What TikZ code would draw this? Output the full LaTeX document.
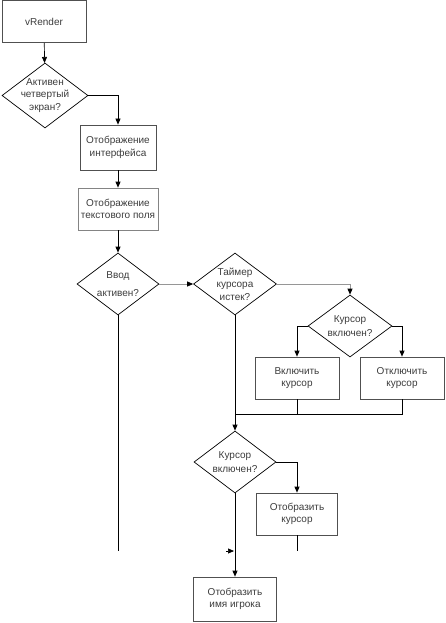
\documentclass[tikz,border=0pt]{standalone}
\usepackage{fontspec}
\setmainfont{Liberation Sans}
\usetikzlibrary{shapes.geometric, arrows.meta, calc}
\definecolor{boxgray}{RGB}{80,80,80}
\definecolor{txtgray}{RGB}{60,60,60}
\definecolor{linegray}{RGB}{150,150,150}

\begin{document}
\begin{tikzpicture}[x=1pt, y=-1pt,
  every node/.style={font=\fontsize{10}{12.5}\selectfont, text=txtgray},
  procbox/.style={draw=boxgray, line width=0.7pt, align=center, inner sep=0pt},
  decision/.style={draw, diamond, aspect=1.3, line width=0.7pt, align=center, inner sep=-8pt},
  flow/.style={line width=0.7pt, -{Triangle[length=6pt, width=5pt]}},
  faint/.style={line width=0.7pt, draw=linegray, -{Triangle[length=6pt, width=5pt, black]}},
  plain/.style={line width=0.7pt}]
  \useasboundingbox (0, 0) rectangle (445, 623);

  % Start
  \node[procbox, minimum width=84pt, minimum height=42pt] (render) at (44, 21.5) {vRender};

  % Fourth screen
  \node[decision, minimum width=86pt, minimum height=65pt] (screen) at (45, 95.5) {Активен\\четвертый\\экран?};
  \draw[flow] (render) -- (screen);

  % Interface and text field
  \node[procbox, minimum width=76pt, minimum height=45pt] (iface) at (118, 147.5) {Отображение\\интерфейса};
  \draw[flow] (screen.east) -| (iface.north);
  \node[procbox, draw=boxgray!70, minimum width=80pt, minimum height=42pt] (field) at (118, 209) {Отображение\\текстового поля};
  \draw[flow] (iface) -- (field);

  % Input active?
  \node[decision, minimum width=82pt, minimum height=62pt] (input) at (118, 284) {Ввод\\[5pt]активен?};
  \draw[flow] (field) -- (input);

  % Cursor timer
  \node[decision, minimum width=83pt, minimum height=62pt] (timer) at (235, 284) {Таймер\\курсора\\истек?};
  \draw[faint] (input.east) -- (timer.west);

  % Toggle cursor
  \node[decision, minimum width=84pt, minimum height=62pt] (cursor) at (350, 326) {Курсор\\[2pt]включен?};
  \draw[faint] (timer.east) -| (cursor.north);
  \node[procbox, minimum width=84pt, minimum height=42pt] (cursoron) at (297, 378) {Включить\\курсор};
  \node[procbox, minimum width=84pt, minimum height=42pt] (cursoroff) at (402, 378) {Отключить\\курсор};
  \draw[flow] (cursor.west) -| (cursoron.north);
  \draw[flow] (cursor.east) -| (cursoroff.north);
  \coordinate (join) at (235, 414);
  \draw[plain] (cursoroff.south) |- (join);
  \draw[plain] (cursoron.south) -- (cursoron.south |- join);

  % Cursor visible?
  \node[decision, minimum width=82pt, minimum height=62pt] (visible) at (235, 462) {Курсор\\[2pt]включен?};
  \draw[flow] (timer.south) -- (visible.north);
  \node[procbox, minimum width=81pt, minimum height=42pt] (drawcursor) at (297, 514) {Отобразить\\курсор};
  \draw[flow] (visible.east) -| (drawcursor.north);

  % Player name
  \node[procbox, minimum width=83pt, minimum height=44pt] (name) at (235, 599) {Отобразить\\имя игрока};
  \draw[flow] (visible.south) -- (name.north);

  % Open ends
  \coordinate (inputend) at (118, 551);
  \coordinate (cursorend) at (297, 551);
  \coordinate (tipfrom) at (226, 551);
  \coordinate (tipto) at (234, 551);
  \draw[plain] (input.south) -- (inputend);
  \draw[plain] (drawcursor.south) -- (cursorend);
  \draw[flow] (tipfrom) -- (tipto);
\end{tikzpicture}
\end{document}
